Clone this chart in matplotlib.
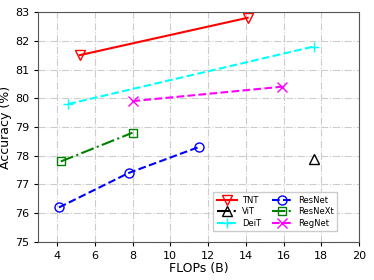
import matplotlib.pyplot as plt

# FLOPs (B) and top-1 accuracy (%) for each model family
tnt_flops = [5.2, 14.1]
tnt_acc = [81.5, 82.8]
vit_flops = [17.6]
vit_acc = [77.9]
deit_flops = [4.6, 17.6]
deit_acc = [79.8, 81.8]
resnet_flops = [4.1, 7.8, 11.5]
resnet_acc = [76.2, 77.4, 78.3]
resnext_flops = [4.2, 8.0]
resnext_acc = [77.8, 78.8]
regnet_flops = [8.0, 15.9]
regnet_acc = [79.9, 80.4]

fig = plt.figure(figsize=(3.74, 2.8), dpi=100)
ax = fig.add_axes([0.102, 0.136, 0.858, 0.821])

ms = 6.5
ax.plot(tnt_flops, tnt_acc, color='red', linestyle='-', marker='v',
        markerfacecolor='none', markersize=ms, label='TNT')
ax.plot(vit_flops, vit_acc, color='black', linestyle='-.', marker='^',
        markerfacecolor='none', markersize=ms, label='ViT')
ax.plot(deit_flops, deit_acc, color='cyan', linestyle='--', marker='+',
        markersize=ms + 1, label='DeiT')
ax.plot(resnet_flops, resnet_acc, color='blue', linestyle='--', marker='o',
        markerfacecolor='none', markersize=ms, label='ResNet')
ax.plot(resnext_flops, resnext_acc, color='green', linestyle='-.', marker='s',
        markerfacecolor='none', markersize=ms - 1, label='ResNeXt')
ax.plot(regnet_flops, regnet_acc, color='magenta', linestyle='--', marker='x',
        markersize=ms, label='RegNet')

ax.set_xlim(3, 20)
ax.set_ylim(75, 83)
ax.set_xticks([4, 6, 8, 10, 12, 14, 16, 18, 20])
ax.set_yticks([75, 76, 77, 78, 79, 80, 81, 82, 83])
ax.tick_params(labelsize=8, length=3)
ax.grid(True, linestyle='-.', color='#cccccc', linewidth=0.8)
ax.set_axisbelow(True)
for s in ax.spines.values():
    s.set_color('#555555')

ax.set_xlabel('FLOPs (B)', fontsize=9, labelpad=1)
ax.set_ylabel('Accuracy (%)', fontsize=9, labelpad=2)

ax.legend(ncol=2, fontsize=6, loc='lower right', bbox_to_anchor=(0.945, 0.03),
          handlelength=2.4, columnspacing=1.3, labelspacing=0.3,
          borderpad=0.4, handletextpad=0.7, fancybox=False, framealpha=1,
          edgecolor='#cccccc')

fig.savefig('out.png', dpi=100)
